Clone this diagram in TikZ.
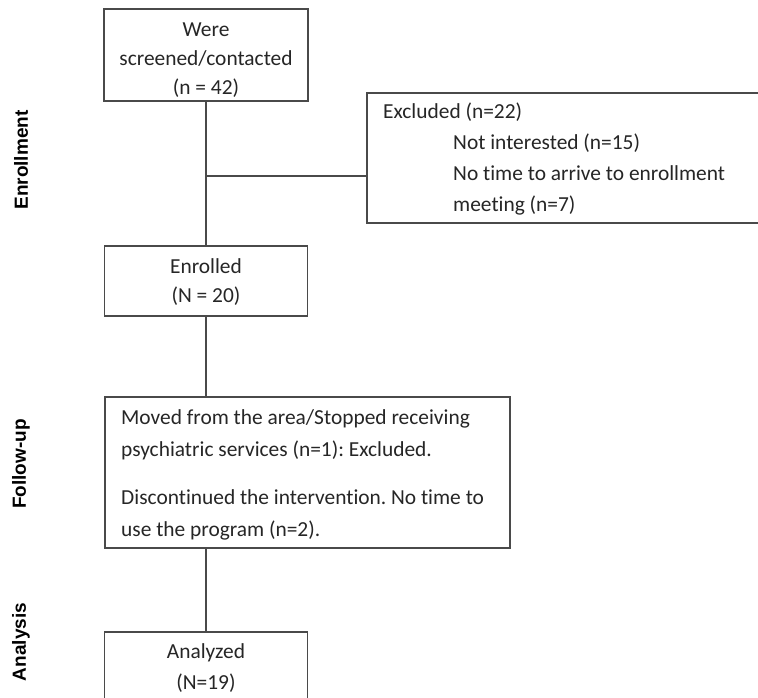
\documentclass[tikz,border=0pt]{standalone}
\usepackage{fontspec}
\setmainfont{Carlito}[Ligatures=NoCommon]
\newfontfamily\labelfont{Liberation Sans}
\definecolor{linecol}{HTML}{4A4A4A}
\definecolor{textcol}{HTML}{262626}
\frenchspacing
\begin{document}
\begin{tikzpicture}[x=1pt,y=-1pt,
  boxshape/.style={draw=linecol, line width=1.1pt, inner sep=0pt},
  txt/.style={inner sep=0pt, text=textcol, font=\fontsize{21.4}{#1}\selectfont},
  txt/.default=29,
  conn/.style={draw=linecol, line width=1.1pt},
  side/.style={inner sep=0pt, rotate=90, text=black, font=\labelfont\bfseries\fontsize{19}{19}\selectfont}]
  % page area
  \clip (0,0) rectangle (758,698);
  \fill[white] (0,0) rectangle (758,698);

  % boxes
  \node[boxshape, minimum width=204, minimum height=92] (screen) at (206,55) {};
  \node[txt, align=center] (screen-t) at (206,60) {Were\\screened/contacted\\(n = 42)};

  \node[boxshape, minimum width=413, minimum height=130] (excl) at (573.5,158) {};
  \node[txt=30.7, align=left, anchor=west] (excl-t) at (383,159)
    {Excluded (n=22)\\
     \hspace*{70pt}Not interested (n=15)\\
     \hspace*{70pt}No time to arrive to enrollment\\
     \hspace*{70pt}meeting (n=7)};

  \node[boxshape, minimum width=203, minimum height=70] (enr) at (206,281) {};
  \node[txt, align=center] (enr-t) at (206,282.5) {Enrolled\\(N = 20)};

  \node[boxshape, minimum width=405, minimum height=151] (fu) at (307.5,472.5) {};
  \node[txt=32, align=left, anchor=west] (fu-t) at (121,475)
    {Moved from the area/Stopped receiving\\
     psychiatric services (n=1): Excluded.\\[16pt]
     Discontinued the intervention. No time to\\
     use the program (n=2).};

  \node[boxshape, minimum width=203, minimum height=88] (ana) at (206,676) {};
  \node[txt=31, align=center] (ana-t) at (206,668) {Analyzed\\(N=19)};

  % connectors
  \draw[conn] (screen.south) -- (enr.north);
  \coordinate (br) at (206,176);
  \draw[conn] (br) -- (br -| excl.west);
  \draw[conn] (enr.south) -- (enr.south |- fu.north);
  \draw[conn] (ana.north |- fu.south) -- (ana.north);

  % stage labels
  \node[side] (lab-enr) at (21,160) {Enrollment};
  \node[side] (lab-fu) at (21,464) {Follow-up};
  \node[side] (lab-ana) at (21,642) {Analysis};
\end{tikzpicture}
\end{document}
